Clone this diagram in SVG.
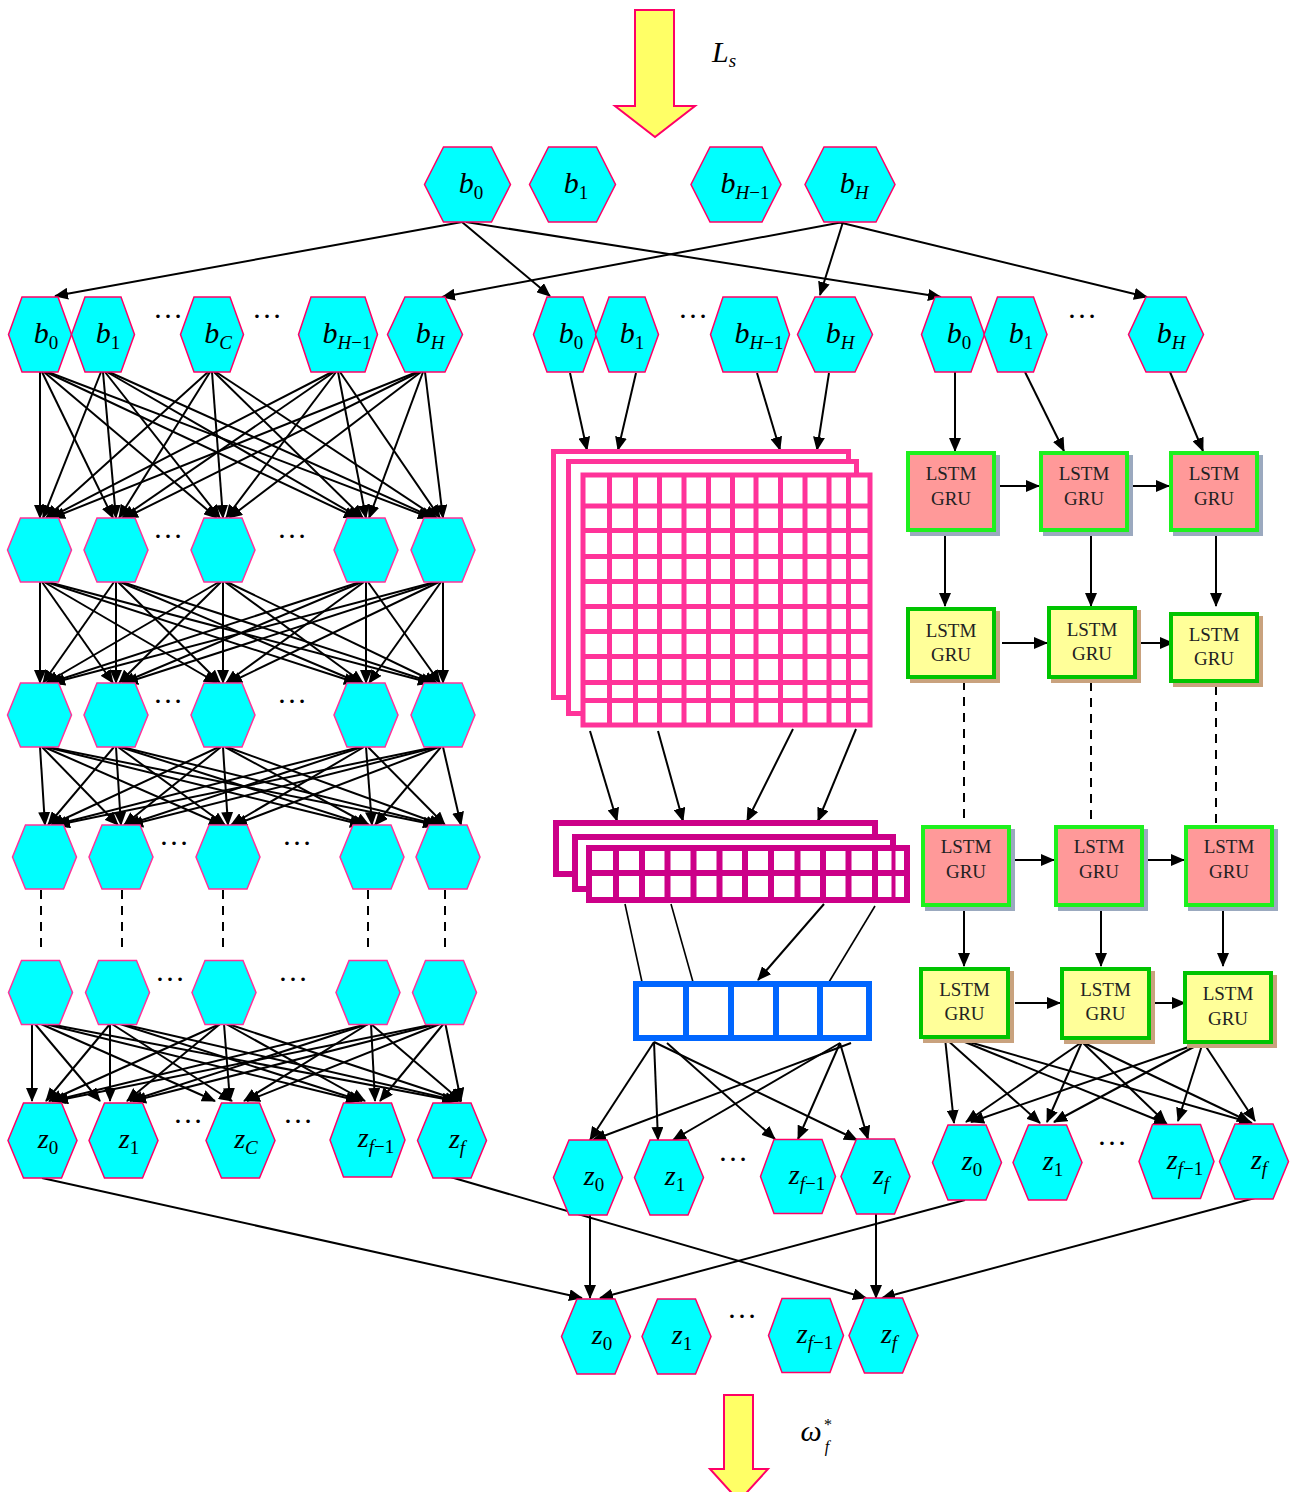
<svg xmlns="http://www.w3.org/2000/svg" width="1298" height="1492" viewBox="0 0 1298 1492">
<style>
.lb{font-family:"Liberation Serif",serif;font-style:italic;font-size:30px;fill:#000;text-anchor:middle}
.lz{font-family:"Liberation Serif",serif;font-style:italic;font-size:28px;fill:#000;text-anchor:middle}
.sb{font-size:19px}
.up{font-style:normal}
.dots{font-family:"Liberation Serif",serif;font-size:30px;fill:#000;text-anchor:middle}
.t{font-family:"Liberation Serif",serif;font-size:19px;fill:#222;text-anchor:middle}
.a{stroke:#000;stroke-width:2;fill:none;marker-end:url(#ah)}
.ln{stroke:#000;stroke-width:1.6;fill:none}
.d{stroke:#000;stroke-width:2;fill:none;stroke-dasharray:9,7}
.pk{fill:#FF9999;stroke:#1EF01E;stroke-width:4}
.yl{fill:#FFFF99;stroke:#00C400;stroke-width:4}
.shb{fill:#9BA9BF}
.sht{fill:#C9A27E}
.g1{fill:none;stroke:#FF3399;stroke-width:5}
.g1b{fill:#fff;stroke:#FF3399;stroke-width:5}
.g2{fill:#fff;stroke:#CC0088;stroke-width:6}
.g3{fill:#fff;stroke:#0066FF;stroke-width:6}
.big{fill:#FFFF66;stroke:#FF0066;stroke-width:2}
</style>
<defs>
<marker id="ah" viewBox="0 0 14 12" markerWidth="14" markerHeight="12" refX="13" refY="6" orient="auto" markerUnits="userSpaceOnUse"><path d="M0,0 L14,6 L0,12 z" fill="#000"/></marker>
<polygon id="hT" points="-24,-37.5 24,-37.5 43,0 24,37.5 -24,37.5 -43,0" fill="#00FFFF" stroke="#FF0066" stroke-width="1.5"/>
<polygon id="hTw" points="-26,-37.5 26,-37.5 45,0 26,37.5 -26,37.5 -45,0" fill="#00FFFF" stroke="#FF0066" stroke-width="1.5"/>
<polygon id="hb" points="-18,-37.5 18,-37.5 31.5,0 18,37.5 -18,37.5 -31.5,0" fill="#00FFFF" stroke="#FF0066" stroke-width="1.5"/>
<polygon id="hbw" points="-27,-37.5 27,-37.5 39.5,0 27,37.5 -27,37.5 -39.5,0" fill="#00FFFF" stroke="#FF0066" stroke-width="1.5"/>
<polygon id="hbH" points="-20,-37.5 20,-37.5 37.5,0 20,37.5 -20,37.5 -37.5,0" fill="#00FFFF" stroke="#FF0066" stroke-width="1.5"/>
<polygon id="hn" points="-19,-32 19,-32 32,0 19,32 -19,32 -32,0" fill="#00FFFF" stroke="#FF3399" stroke-width="1.5"/>
<polygon id="hz" points="-19,-37.5 19,-37.5 34.5,0 19,37.5 -19,37.5 -34.5,0" fill="#00FFFF" stroke="#FF0066" stroke-width="1.5"/>
<polygon id="hzw" points="-24,-37 24,-37 37.5,0 24,37 -24,37 -37.5,0" fill="#00FFFF" stroke="#FF0066" stroke-width="1.5"/>
</defs>
<rect width="1298" height="1492" fill="#fff"/>

<g id="input-arrow">
<polygon class="big" points="635,10 674,10 674,106 695,106 655,137 615,106 635,106"/>
<text class="lb" x="724" y="62" font-size="26">L<tspan class="sb" font-size="16" dy="5">s</tspan></text>
</g>
<g id="output-arrow">
<polygon class="big" points="724,1395 753,1395 753,1469 768,1469 739,1501 710,1469 724,1469"/>
<text class="lb" x="811" y="1441" style="font-size:30px">ω</text>
<text class="dots" x="828" y="1430" style="font-size:16px">*</text>
<text class="lb" x="827" y="1452" style="font-size:16px">f</text>
</g>

<g id="connectors">
<!-- top to groups -->
<line class="a" x1="462" y1="222" x2="55" y2="296"/>
<line class="a" x1="462" y1="222" x2="550" y2="296"/>
<line class="a" x1="466" y1="222" x2="941" y2="297"/>
<line class="a" x1="843" y1="222" x2="442" y2="297"/>
<line class="a" x1="843" y1="222" x2="820" y2="295"/>
<line class="a" x1="838" y1="222" x2="1147" y2="297"/>
<!-- left A->B -->
<line class="a" x1="40" y1="372" x2="40" y2="518"/><line class="a" x1="42" y1="372" x2="113" y2="518"/><line class="a" x1="44" y1="372" x2="217" y2="518"/><line class="a" x1="46" y1="372" x2="357" y2="518"/><line class="a" x1="48" y1="372" x2="431" y2="518"/>
<line class="a" x1="101" y1="372" x2="43" y2="518"/><line class="a" x1="103" y1="372" x2="116" y2="518"/><line class="a" x1="105" y1="372" x2="220" y2="518"/><line class="a" x1="107" y1="372" x2="360" y2="518"/><line class="a" x1="109" y1="372" x2="434" y2="518"/>
<line class="a" x1="208" y1="372" x2="46" y2="518"/><line class="a" x1="210" y1="372" x2="119" y2="518"/><line class="a" x1="212" y1="372" x2="223" y2="518"/><line class="a" x1="214" y1="372" x2="363" y2="518"/><line class="a" x1="216" y1="372" x2="437" y2="518"/>
<line class="a" x1="332" y1="372" x2="49" y2="518"/><line class="a" x1="334" y1="372" x2="122" y2="518"/><line class="a" x1="336" y1="372" x2="226" y2="518"/><line class="a" x1="338" y1="372" x2="366" y2="518"/><line class="a" x1="340" y1="372" x2="440" y2="518"/>
<line class="a" x1="417" y1="372" x2="52" y2="518"/><line class="a" x1="419" y1="372" x2="125" y2="518"/><line class="a" x1="421" y1="372" x2="229" y2="518"/><line class="a" x1="423" y1="372" x2="369" y2="518"/><line class="a" x1="425" y1="372" x2="443" y2="518"/>
<!-- left B->C -->
<line class="a" x1="40" y1="582" x2="40" y2="683"/><line class="a" x1="42" y1="582" x2="113" y2="683"/><line class="a" x1="44" y1="582" x2="217" y2="683"/><line class="a" x1="46" y1="582" x2="357" y2="683"/><line class="a" x1="48" y1="582" x2="431" y2="683"/>
<line class="a" x1="114" y1="582" x2="43" y2="683"/><line class="a" x1="116" y1="582" x2="116" y2="683"/><line class="a" x1="118" y1="582" x2="220" y2="683"/><line class="a" x1="120" y1="582" x2="360" y2="683"/><line class="a" x1="122" y1="582" x2="434" y2="683"/>
<line class="a" x1="219" y1="582" x2="46" y2="683"/><line class="a" x1="221" y1="582" x2="119" y2="683"/><line class="a" x1="223" y1="582" x2="223" y2="683"/><line class="a" x1="225" y1="582" x2="363" y2="683"/><line class="a" x1="227" y1="582" x2="437" y2="683"/>
<line class="a" x1="360" y1="582" x2="49" y2="683"/><line class="a" x1="362" y1="582" x2="122" y2="683"/><line class="a" x1="364" y1="582" x2="226" y2="683"/><line class="a" x1="366" y1="582" x2="366" y2="683"/><line class="a" x1="368" y1="582" x2="440" y2="683"/>
<line class="a" x1="435" y1="582" x2="52" y2="683"/><line class="a" x1="437" y1="582" x2="125" y2="683"/><line class="a" x1="439" y1="582" x2="229" y2="683"/><line class="a" x1="441" y1="582" x2="369" y2="683"/><line class="a" x1="443" y1="582" x2="443" y2="683"/>
<!-- left C->D -->
<line class="a" x1="40" y1="747" x2="45" y2="825"/><line class="a" x1="42" y1="747" x2="118" y2="825"/><line class="a" x1="44" y1="747" x2="222" y2="825"/><line class="a" x1="46" y1="747" x2="363" y2="825"/><line class="a" x1="48" y1="747" x2="436" y2="825"/>
<line class="a" x1="114" y1="747" x2="48" y2="825"/><line class="a" x1="116" y1="747" x2="121" y2="825"/><line class="a" x1="118" y1="747" x2="225" y2="825"/><line class="a" x1="120" y1="747" x2="366" y2="825"/><line class="a" x1="122" y1="747" x2="439" y2="825"/>
<line class="a" x1="219" y1="747" x2="51" y2="825"/><line class="a" x1="221" y1="747" x2="124" y2="825"/><line class="a" x1="223" y1="747" x2="228" y2="825"/><line class="a" x1="225" y1="747" x2="369" y2="825"/><line class="a" x1="227" y1="747" x2="442" y2="825"/>
<line class="a" x1="360" y1="747" x2="54" y2="825"/><line class="a" x1="362" y1="747" x2="127" y2="825"/><line class="a" x1="364" y1="747" x2="231" y2="825"/><line class="a" x1="366" y1="747" x2="372" y2="825"/><line class="a" x1="368" y1="747" x2="445" y2="825"/>
<line class="a" x1="435" y1="747" x2="57" y2="825"/><line class="a" x1="437" y1="747" x2="130" y2="825"/><line class="a" x1="439" y1="747" x2="234" y2="825"/><line class="a" x1="441" y1="747" x2="375" y2="825"/><line class="a" x1="443" y1="747" x2="461" y2="825"/>
<!-- left D..E dashed -->
<line class="d" x1="41" y1="890" x2="41" y2="947"/><line class="d" x1="122" y1="890" x2="122" y2="947"/><line class="d" x1="223" y1="890" x2="223" y2="947"/><line class="d" x1="368" y1="890" x2="368" y2="947"/><line class="d" x1="445" y1="890" x2="445" y2="947"/>
<!-- left E->F -->
<line class="a" x1="32" y1="1024" x2="32" y2="1101"/><line class="a" x1="35" y1="1024" x2="100" y2="1101"/><line class="a" x1="41" y1="1024" x2="215" y2="1101"/><line class="a" x1="45" y1="1024" x2="359" y2="1101"/><line class="a" x1="49" y1="1024" x2="455" y2="1101"/>
<line class="a" x1="110" y1="1024" x2="46" y2="1101"/><line class="a" x1="110" y1="1024" x2="110" y2="1101"/><line class="a" x1="112" y1="1024" x2="232" y2="1101"/><line class="a" x1="120" y1="1024" x2="362" y2="1101"/><line class="a" x1="122" y1="1024" x2="458" y2="1101"/>
<line class="a" x1="220" y1="1024" x2="49" y2="1101"/><line class="a" x1="220" y1="1024" x2="127" y2="1101"/><line class="a" x1="224" y1="1024" x2="230" y2="1101"/><line class="a" x1="226" y1="1024" x2="365" y2="1101"/><line class="a" x1="228" y1="1024" x2="461" y2="1101"/>
<line class="a" x1="368" y1="1024" x2="52" y2="1101"/><line class="a" x1="368" y1="1024" x2="130" y2="1101"/><line class="a" x1="368" y1="1024" x2="244" y2="1101"/><line class="a" x1="371" y1="1024" x2="375" y2="1101"/><line class="a" x1="371" y1="1024" x2="461" y2="1101"/>
<line class="a" x1="445" y1="1022" x2="55" y2="1101"/><line class="a" x1="445" y1="1022" x2="133" y2="1101"/><line class="a" x1="445" y1="1022" x2="247" y2="1101"/><line class="a" x1="445" y1="1022" x2="380" y2="1101"/><line class="a" x1="445" y1="1022" x2="461" y2="1101"/>
<!-- middle -->
<line class="a" x1="570" y1="373" x2="587" y2="450"/>
<line class="a" x1="636" y1="373" x2="618" y2="450"/>
<line class="a" x1="757" y1="373" x2="780" y2="450"/>
<line class="a" x1="829" y1="373" x2="817" y2="450"/>
<line class="a" x1="590" y1="731" x2="617" y2="821"/>
<line class="a" x1="658" y1="731" x2="683" y2="821"/>
<line class="a" x1="793" y1="729" x2="747" y2="821"/>
<line class="a" x1="856" y1="729" x2="818" y2="821"/>
<line class="ln" x1="625" y1="904" x2="642" y2="982"/>
<line class="ln" x1="671" y1="904" x2="693" y2="982"/>
<line class="a" x1="824" y1="904" x2="758" y2="980"/>
<line class="ln" x1="875" y1="906" x2="829" y2="982"/>
<line class="a" x1="654" y1="1042" x2="590" y2="1140"/>
<line class="a" x1="654" y1="1042" x2="658" y2="1140"/>
<line class="a" x1="654" y1="1042" x2="857" y2="1140"/>
<line class="a" x1="667" y1="1043" x2="775" y2="1139"/>
<line class="a" x1="840" y1="1043" x2="673" y2="1140"/>
<line class="a" x1="840" y1="1043" x2="798" y2="1139"/>
<line class="a" x1="840" y1="1043" x2="868" y2="1139"/>
<line class="a" x1="851" y1="1043" x2="593" y2="1140"/>
<!-- right -->
<line class="a" x1="955" y1="372" x2="955" y2="451"/>
<line class="a" x1="1025" y1="372" x2="1064" y2="451"/>
<line class="a" x1="1170" y1="372" x2="1203" y2="451"/>
<line class="a" x1="996" y1="486" x2="1039" y2="486"/>
<line class="a" x1="1133" y1="486" x2="1169" y2="486"/>
<line class="a" x1="945" y1="532" x2="945" y2="606"/>
<line class="a" x1="1091" y1="536" x2="1091" y2="606"/>
<line class="a" x1="1216" y1="532" x2="1216" y2="606"/>
<line class="a" x1="1002" y1="643" x2="1047" y2="643"/>
<line class="a" x1="1136" y1="643" x2="1173" y2="643"/>
<line class="d" x1="964" y1="681" x2="964" y2="823"/>
<line class="d" x1="1091" y1="682" x2="1091" y2="823"/>
<line class="d" x1="1216" y1="686" x2="1216" y2="823"/>
<line class="a" x1="1010" y1="860" x2="1054" y2="860"/>
<line class="a" x1="1147" y1="860" x2="1184" y2="860"/>
<line class="a" x1="964" y1="908" x2="964" y2="966"/>
<line class="a" x1="1101" y1="910" x2="1101" y2="966"/>
<line class="a" x1="1223" y1="910" x2="1223" y2="966"/>
<line class="a" x1="1015" y1="1003" x2="1060" y2="1003"/>
<line class="a" x1="1149" y1="1003" x2="1185" y2="1003"/>
<line class="a" x1="945" y1="1038" x2="954" y2="1123"/>
<line class="a" x1="945" y1="1038" x2="1040" y2="1123"/>
<line class="a" x1="955" y1="1038" x2="1167" y2="1124"/>
<line class="a" x1="955" y1="1038" x2="1252" y2="1123"/>
<line class="a" x1="1082" y1="1042" x2="966" y2="1122"/>
<line class="a" x1="1082" y1="1042" x2="1047" y2="1122"/>
<line class="a" x1="1082" y1="1042" x2="1166" y2="1123"/>
<line class="a" x1="1082" y1="1042" x2="1250" y2="1122"/>
<line class="a" x1="1203" y1="1042" x2="971" y2="1122"/>
<line class="a" x1="1203" y1="1042" x2="1054" y2="1122"/>
<line class="a" x1="1203" y1="1042" x2="1178" y2="1121"/>
<line class="a" x1="1203" y1="1042" x2="1255" y2="1121"/>
<!-- final -->
<line class="a" x1="590" y1="1215" x2="590" y2="1298"/>
<line class="a" x1="876" y1="1213" x2="876" y2="1298"/>
<line class="a" x1="42" y1="1178" x2="582" y2="1298"/>
<line class="a" x1="447" y1="1176" x2="866" y2="1298"/>
<line class="a" x1="965" y1="1200" x2="600" y2="1298"/>
<line class="a" x1="1255" y1="1198" x2="882" y2="1298"/>
</g>

<!-- top row -->
<g id="top-b0"><use href="#hT" x="467.5" y="184.5"/><text class="lb" x="471" y="193">b<tspan class="sb up" dy="6">0</tspan></text></g>
<g id="top-b1"><use href="#hT" x="572.5" y="184.5"/><text class="lb" x="576" y="193">b<tspan class="sb up" dy="6">1</tspan></text></g>
<g id="top-bHm1"><use href="#hTw" x="736" y="184.5"/><text class="lb" x="745" y="193">b<tspan class="sb" dy="6">H<tspan class="up">−1</tspan></tspan></text></g>
<g id="top-bH"><use href="#hTw" x="850" y="184.5"/><text class="lb" x="854" y="193">b<tspan class="sb" dy="6">H</tspan></text></g>

<!-- left group row A -->
<g id="L-b0"><use href="#hb" x="40" y="334.5"/><text class="lb" x="46" y="343">b<tspan class="sb up" dy="6">0</tspan></text></g>
<g id="L-b1"><use href="#hb" x="103" y="334.5"/><text class="lb" x="108" y="343">b<tspan class="sb up" dy="6">1</tspan></text></g>
<g id="L-bC"><use href="#hb" x="212" y="334.5"/><text class="lb" x="218" y="343">b<tspan class="sb" dy="6">C</tspan></text></g>
<g id="L-bHm1"><use href="#hbw" x="338" y="334.5"/><text class="lb" x="347" y="343">b<tspan class="sb" dy="6">H<tspan class="up">−1</tspan></tspan></text></g>
<g id="L-bH"><use href="#hbH" x="425" y="334.5"/><text class="lb" x="430" y="343">b<tspan class="sb" dy="6">H</tspan></text></g>
<text class="dots" x="168" y="318">…</text><text class="dots" x="267" y="318">…</text>

<!-- middle group row A -->
<g id="M-b0"><use href="#hb" x="565" y="334.5"/><text class="lb" x="571" y="343">b<tspan class="sb up" dy="6">0</tspan></text></g>
<g id="M-b1"><use href="#hb" x="627" y="334.5"/><text class="lb" x="632" y="343">b<tspan class="sb up" dy="6">1</tspan></text></g>
<g id="M-bHm1"><use href="#hbw" x="750" y="334.5"/><text class="lb" x="759" y="343">b<tspan class="sb" dy="6">H<tspan class="up">−1</tspan></tspan></text></g>
<g id="M-bH"><use href="#hbH" x="835" y="334.5"/><text class="lb" x="840" y="343">b<tspan class="sb" dy="6">H</tspan></text></g>
<text class="dots" x="693" y="318">…</text>

<!-- right group row A -->
<g id="R-b0"><use href="#hb" x="953" y="334.5"/><text class="lb" x="959" y="343">b<tspan class="sb up" dy="6">0</tspan></text></g>
<g id="R-b1"><use href="#hb" x="1015.5" y="334.5"/><text class="lb" x="1021" y="343">b<tspan class="sb up" dy="6">1</tspan></text></g>
<g id="R-bH"><use href="#hbH" x="1166" y="334.5"/><text class="lb" x="1171" y="343">b<tspan class="sb" dy="6">H</tspan></text></g>
<text class="dots" x="1082" y="318">…</text>

<!-- left hidden layers -->
<g id="L-B0"><use href="#hn" x="39.5" y="550"/></g>
<g id="L-B1"><use href="#hn" x="116" y="550"/></g>
<g id="L-B2"><use href="#hn" x="223" y="550"/></g>
<g id="L-B3"><use href="#hn" x="366" y="550"/></g>
<g id="L-B4"><use href="#hn" x="443" y="550"/></g>
<text class="dots" x="168" y="538">…</text><text class="dots" x="292" y="538">…</text>
<g id="L-C0"><use href="#hn" x="39.5" y="715"/></g>
<g id="L-C1"><use href="#hn" x="116" y="715"/></g>
<g id="L-C2"><use href="#hn" x="223" y="715"/></g>
<g id="L-C3"><use href="#hn" x="366" y="715"/></g>
<g id="L-C4"><use href="#hn" x="443" y="715"/></g>
<text class="dots" x="168" y="703">…</text><text class="dots" x="292" y="703">…</text>
<g id="L-D0"><use href="#hn" x="44.5" y="857"/></g>
<g id="L-D1"><use href="#hn" x="121" y="857"/></g>
<g id="L-D2"><use href="#hn" x="228" y="857"/></g>
<g id="L-D3"><use href="#hn" x="372" y="857"/></g>
<g id="L-D4"><use href="#hn" x="448" y="857"/></g>
<text class="dots" x="174" y="845">…</text><text class="dots" x="297" y="845">…</text>
<g id="L-E0"><use href="#hn" x="40.5" y="992.5"/></g>
<g id="L-E1"><use href="#hn" x="117.5" y="992.5"/></g>
<g id="L-E2"><use href="#hn" x="224" y="992.5"/></g>
<g id="L-E3"><use href="#hn" x="368" y="992.5"/></g>
<g id="L-E4"><use href="#hn" x="444.5" y="992.5"/></g>
<text class="dots" x="170" y="981">…</text><text class="dots" x="293" y="981">…</text>

<!-- left z -->
<g id="L-z0"><use href="#hz" x="42.5" y="1140.5"/><text class="lz" x="48" y="1148">z<tspan class="sb up" dy="6">0</tspan></text></g>
<g id="L-z1"><use href="#hz" x="123.5" y="1140.5"/><text class="lz" x="129" y="1148">z<tspan class="sb up" dy="6">1</tspan></text></g>
<g id="L-zC"><use href="#hz" x="240.5" y="1140.5"/><text class="lz" x="246" y="1148">z<tspan class="sb" dy="6">C</tspan></text></g>
<g id="L-zfm1"><use href="#hzw" x="367.5" y="1140"/><text class="lz" x="376" y="1147">z<tspan class="sb" dy="6">f<tspan class="up">−1</tspan></tspan></text></g>
<g id="L-zf"><use href="#hz" x="452" y="1140.5"/><text class="lz" x="457" y="1148">z<tspan class="sb" dy="6">f</tspan></text></g>
<text class="dots" x="188" y="1123">…</text><text class="dots" x="298" y="1123">…</text>

<!-- middle grids -->
<g id="M-conv">
<rect class="g1b" x="553.5" y="451.5" width="295" height="246"/>
<rect class="g1b" x="568.5" y="461.5" width="288" height="252"/>
<rect class="g1b" x="583" y="475" width="287" height="250" stroke-width="6"/>
<path class="g1" stroke-width="6" d="M609.5,475V725M635.5,475V725M659.5,475V725M684,475V725M708.5,475V725M732.5,475V725M756,475V725M780.5,475V725M805,475V725M829,475V725M848.5,475V725M583,506H870M583,530.5H870M583,556.5H870M583,581.5H870M583,606.5H870M583,631.5H870M583,656.5H870M583,682.5H870M583,700.5H870"/>
</g>
<g id="M-pool">
<rect class="g2" x="556" y="823" width="319" height="51"/>
<rect class="g2" x="575" y="837" width="318" height="52"/>
<rect class="g2" x="589" y="848" width="318" height="52"/>
<path fill="none" stroke="#CC0088" stroke-width="6" d="M589,873H907M616,848V900M642,848V900M667.5,848V900M693.5,848V900M719.5,848V900M745,848V900M771,848V900M797.5,848V900M823,848V900M848.5,848V900M875,848V900"/>
<path fill="none" stroke="#CC0088" stroke-width="4" d="M893.5,848V900"/>
</g>
<g id="M-fc">
<rect class="g3" x="636" y="984" width="233" height="54"/>
<path fill="none" stroke="#0066FF" stroke-width="6" d="M686,984V1038M731,984V1038M776,984V1038M820,984V1038"/>
</g>

<!-- middle z -->
<g id="M-z0"><use href="#hz" x="588" y="1177.5"/><text class="lz" x="594" y="1185">z<tspan class="sb up" dy="6">0</tspan></text></g>
<g id="M-z1"><use href="#hz" x="669" y="1177.5"/><text class="lz" x="675" y="1185">z<tspan class="sb up" dy="6">1</tspan></text></g>
<g id="M-zfm1"><use href="#hzw" x="798" y="1176.5"/><text class="lz" x="807" y="1184">z<tspan class="sb" dy="6">f<tspan class="up">−1</tspan></tspan></text></g>
<g id="M-zf"><use href="#hz" x="875.5" y="1176.5"/><text class="lz" x="881" y="1184">z<tspan class="sb" dy="6">f</tspan></text></g>
<text class="dots" x="733" y="1161">…</text>

<!-- right LSTM boxes -->
<g id="R-r1c1"><rect class="shb" x="910" y="455" width="90" height="81"/><rect class="pk" x="908" y="453" width="86" height="77"/><text class="t" x="951" y="480">LSTM</text><text class="t" x="951" y="505">GRU</text></g>
<g id="R-r1c2"><rect class="shb" x="1043" y="455" width="90" height="81"/><rect class="pk" x="1041" y="453" width="86" height="77"/><text class="t" x="1084" y="480">LSTM</text><text class="t" x="1084" y="505">GRU</text></g>
<g id="R-r1c3"><rect class="shb" x="1173" y="455" width="90" height="81"/><rect class="pk" x="1171" y="453" width="86" height="77"/><text class="t" x="1214" y="480">LSTM</text><text class="t" x="1214" y="505">GRU</text></g>
<g id="R-r2c1"><rect class="sht" x="910" y="611" width="90" height="72"/><rect class="yl" x="908" y="609" width="86" height="68"/><text class="t" x="951" y="637">LSTM</text><text class="t" x="951" y="661">GRU</text></g>
<g id="R-r2c2"><rect class="sht" x="1051" y="610" width="90" height="73"/><rect class="yl" x="1049" y="608" width="86" height="69"/><text class="t" x="1092" y="636">LSTM</text><text class="t" x="1092" y="660">GRU</text></g>
<g id="R-r2c3"><rect class="sht" x="1173" y="616" width="90" height="71"/><rect class="yl" x="1171" y="614" width="86" height="67"/><text class="t" x="1214" y="641">LSTM</text><text class="t" x="1214" y="665">GRU</text></g>
<g id="R-r3c1"><rect class="shb" x="925" y="829" width="90" height="82"/><rect class="pk" x="923" y="827" width="86" height="78"/><text class="t" x="966" y="853">LSTM</text><text class="t" x="966" y="878">GRU</text></g>
<g id="R-r3c2"><rect class="shb" x="1058" y="829" width="90" height="82"/><rect class="pk" x="1056" y="827" width="86" height="78"/><text class="t" x="1099" y="853">LSTM</text><text class="t" x="1099" y="878">GRU</text></g>
<g id="R-r3c3"><rect class="shb" x="1188" y="829" width="90" height="82"/><rect class="pk" x="1186" y="827" width="86" height="78"/><text class="t" x="1229" y="853">LSTM</text><text class="t" x="1229" y="878">GRU</text></g>
<g id="R-r4c1"><rect class="sht" x="923" y="971" width="91" height="72"/><rect class="yl" x="921" y="969" width="87" height="68"/><text class="t" x="964.5" y="996">LSTM</text><text class="t" x="964.5" y="1020">GRU</text></g>
<g id="R-r4c2"><rect class="sht" x="1064" y="971" width="91" height="73"/><rect class="yl" x="1062" y="969" width="87" height="69"/><text class="t" x="1105.5" y="996">LSTM</text><text class="t" x="1105.5" y="1020">GRU</text></g>
<g id="R-r4c3"><rect class="sht" x="1187" y="975" width="90" height="73"/><rect class="yl" x="1185" y="973" width="86" height="69"/><text class="t" x="1228" y="1000">LSTM</text><text class="t" x="1228" y="1025">GRU</text></g>

<!-- right z -->
<g id="R-z0"><use href="#hz" x="967" y="1162.5"/><text class="lz" x="972" y="1170">z<tspan class="sb up" dy="6">0</tspan></text></g>
<g id="R-z1"><use href="#hz" x="1047.5" y="1162.5"/><text class="lz" x="1053" y="1170">z<tspan class="sb up" dy="6">1</tspan></text></g>
<g id="R-zfm1"><use href="#hzw" x="1176.5" y="1161.5"/><text class="lz" x="1185" y="1169">z<tspan class="sb" dy="6">f<tspan class="up">−1</tspan></tspan></text></g>
<g id="R-zf"><use href="#hz" x="1254" y="1161.5"/><text class="lz" x="1259" y="1169">z<tspan class="sb" dy="6">f</tspan></text></g>
<text class="dots" x="1112" y="1145">…</text>

<!-- final z -->
<g id="F-z0"><use href="#hz" x="596" y="1336.5"/><text class="lz" x="602" y="1344">z<tspan class="sb up" dy="6">0</tspan></text></g>
<g id="F-z1"><use href="#hz" x="676.5" y="1336.5"/><text class="lz" x="682" y="1344">z<tspan class="sb up" dy="6">1</tspan></text></g>
<g id="F-zfm1"><use href="#hzw" x="806" y="1335.5"/><text class="lz" x="815" y="1343">z<tspan class="sb" dy="6">f<tspan class="up">−1</tspan></tspan></text></g>
<g id="F-zf"><use href="#hz" x="883.5" y="1335.5"/><text class="lz" x="889" y="1343">z<tspan class="sb" dy="6">f</tspan></text></g>
<text class="dots" x="742" y="1318">…</text>
</svg>
